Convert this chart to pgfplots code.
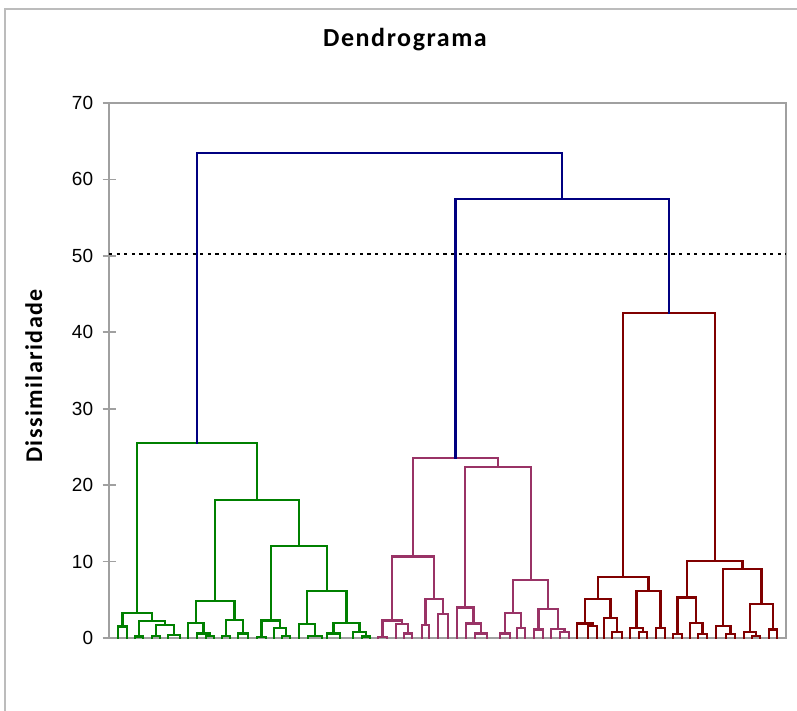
\documentclass[border=0pt]{standalone}
\usepackage{pgfplots}
\pgfplotsset{compat=1.18}
\usepackage{fontspec}
\setmainfont{Carlito}
\newfontfamily\tickfont{Liberation Sans}
\newfontfamily\titlefont[LetterSpace=6]{Carlito}
\definecolor{cgreen}{HTML}{008000}
\definecolor{cpurple}{HTML}{993366}
\definecolor{cred}{HTML}{800000}
\definecolor{cblue}{HTML}{000080}
\definecolor{framegray}{HTML}{A0A0A0}
\begin{document}
\begin{tikzpicture}
\path[use as bounding box] (0,0) rectangle (398.5pt,355.5pt);
\draw[framegray!70, line width=0.8pt] (2.5pt,0) -- (2.5pt,351pt) -- (398.5pt,351pt);
\begin{axis}[
  at={(54.5pt,36.5pt)}, anchor=south west,
  width=338.5pt, height=267.5pt, scale only axis,
  xmin=109, xmax=786, ymin=0, ymax=70,
  xtick=\empty, ytick={0,10,...,70}, ytick pos=left,
  tick align=center, major tick length=6.5pt,
  axis line style={framegray, line width=0.8pt},
  every tick/.style={framegray, line width=0.8pt},
  tick label style={font=\tickfont\fontsize{9.5}{11}\selectfont},
  /pgf/number format/assume math mode=true,
  yticklabel style={anchor=east, inner sep=0pt, xshift=-4.5pt},
  unbounded coords=jump, clip=false,
  every axis plot/.append style={line width=1.1pt, line join=miter, line cap=rect},
]
% green cluster
\addplot[cgreen] coordinates {
(118,0) (118,1.5) (127,1.5) (127,0) (0,nan)
(135,0) (135,0.2) (143,0.2) (143,0) (0,nan)
(152,0) (152,0.3) (160,0.3) (160,0) (0,nan)
(168,0) (168,0.4) (180,0.4) (180,0) (0,nan)
(156,0.3) (156,1.7) (174,1.7) (174,0.4) (0,nan)
(139,0.2) (139,2.2) (165,2.2) (165,1.7) (0,nan)
(122.5,1.5) (122.5,3.3) (152,3.3) (152,2.2) (0,nan)
(206,0) (206,0.3) (214,0.3) (214,0) (0,nan)
(197,0) (197,0.6) (210,0.6) (210,0.3) (0,nan)
(188,0) (188,2.0) (203.5,2.0) (203.5,0.6) (0,nan)
(222,0) (222,0.3) (230,0.3) (230,0) (0,nan)
(238,0) (238,0.6) (248,0.6) (248,0) (0,nan)
(226,0.3) (226,2.35) (243,2.35) (243,0.6) (0,nan)
(195.75,2.0) (195.75,4.85) (234.5,4.85) (234.5,2.35) (0,nan)
(257,0) (257,0.1) (266,0.1) (266,0) (0,nan)
(282,0) (282,0.3) (290,0.3) (290,0) (0,nan)
(274,0) (274,1.35) (286,1.35) (286,0.3) (0,nan)
(261.5,0.1) (261.5,2.3) (280,2.3) (280,1.35) (0,nan)
(308,0) (308,0.3) (322,0.3) (322,0) (0,nan)
(299,0) (299,1.8) (315,1.8) (315,0.3) (0,nan)
(327,0) (327,0.6) (340,0.6) (340,0) (0,nan)
(362,0) (362,0.2) (370,0.2) (370,0) (0,nan)
(353,0) (353,0.75) (366,0.75) (366,0.2) (0,nan)
(333.5,0.6) (333.5,2.0) (359.5,2.0) (359.5,0.75) (0,nan)
(307,1.8) (307,6.2) (346.5,6.2) (346.5,2.0) (0,nan)
(270.75,2.3) (270.75,12.05) (326.75,12.05) (326.75,6.2) (0,nan)
(215.1,4.85) (215.1,18.05) (298.75,18.05) (298.75,12.05) (0,nan)
(137.25,3.3) (137.25,25.5) (256.9,25.5) (256.9,18.05)
};
% purple cluster
\addplot[cpurple] coordinates {
(378,0) (378,0.15) (387,0.15) (387,0) (0,nan)
(404,0) (404,0.6) (412,0.6) (412,0) (0,nan)
(396,0) (396,1.8) (408,1.8) (408,0.6) (0,nan)
(382.5,0.15) (382.5,2.3) (402,2.3) (402,1.8) (0,nan)
(422,0) (422,1.7) (429,1.7) (429,0) (0,nan)
(438,0) (438,3.1) (448,3.1) (448,0) (0,nan)
(425.5,1.7) (425.5,5.1) (443,5.1) (443,3.1) (0,nan)
(392.25,2.3) (392.25,10.65) (434.25,10.65) (434.25,5.1) (0,nan)
(475,0) (475,0.6) (487,0.6) (487,0) (0,nan)
(466,0) (466,1.9) (481,1.9) (481,0.6) (0,nan)
(457,0) (457,4.0) (473.5,4.0) (473.5,1.9) (0,nan)
(500,0) (500,0.6) (510,0.6) (510,0) (0,nan)
(517,0) (517,1.3) (525,1.3) (525,0) (0,nan)
(505,0.6) (505,3.3) (521,3.3) (521,1.3) (0,nan)
(534,0) (534,1.1) (543,1.1) (543,0) (0,nan)
(560,0) (560,0.75) (569,0.75) (569,0) (0,nan)
(551,0) (551,1.15) (564.5,1.15) (564.5,0.75) (0,nan)
(538.5,1.1) (538.5,3.75) (557.75,3.75) (557.75,1.15) (0,nan)
(513,3.3) (513,7.6) (548.1,7.6) (548.1,3.75) (0,nan)
(465.25,4.0) (465.25,22.4) (530.6,22.4) (530.6,7.6) (0,nan)
(413.25,10.65) (413.25,23.5) (497.8,23.5) (497.8,22.4)
};
% red cluster
\addplot[cred] coordinates {
(588,0) (588,1.6) (597,1.6) (597,0) (0,nan)
(577,0) (577,1.9) (592.5,1.9) (592.5,1.6) (0,nan)
(612,0) (612,0.75) (622,0.75) (622,0) (0,nan)
(604,0) (604,2.6) (617,2.6) (617,0.75) (0,nan)
(584.75,1.9) (584.75,5.06) (610.5,5.06) (610.5,2.6) (0,nan)
(639,0) (639,0.8) (647,0.8) (647,0) (0,nan)
(630,0) (630,1.35) (643,1.35) (643,0.8) (0,nan)
(656,0) (656,1.3) (665,1.3) (665,0) (0,nan)
(636.5,1.35) (636.5,6.2) (660.5,6.2) (660.5,1.3) (0,nan)
(597.6,5.06) (597.6,8.0) (648.5,8.0) (648.5,6.2) (0,nan)
(673,0) (673,0.5) (682,0.5) (682,0) (0,nan)
(698,0) (698,0.5) (707,0.5) (707,0) (0,nan)
(690,0) (690,2.0) (702.5,2.0) (702.5,0.5) (0,nan)
(677.5,0.5) (677.5,5.3) (696.25,5.3) (696.25,2.0) (0,nan)
(726,0) (726,0.5) (735,0.5) (735,0) (0,nan)
(716,0) (716,1.6) (730.5,1.6) (730.5,0.5) (0,nan)
(752,0) (752,0.25) (760,0.25) (760,0) (0,nan)
(744,0) (744,0.8) (756,0.8) (756,0.25) (0,nan)
(769,0) (769,1.1) (777,1.1) (777,0) (0,nan)
(750,0.8) (750,4.5) (773,4.5) (773,1.1) (0,nan)
(723.25,1.6) (723.25,9.0) (761.5,9.0) (761.5,4.5) (0,nan)
(686.9,5.3) (686.9,10.1) (742.4,10.1) (742.4,9.0) (0,nan)
(623,8.0) (623,42.5) (714.6,42.5) (714.6,10.1)
};
% top merges
\addplot[cblue] coordinates {
(455.5,23.5) (455.5,57.4) (668.8,57.4) (668.8,42.5) (0,nan)
(197.1,25.5) (197.1,63.5) (562.1,63.5) (562.1,57.4)
};
% cut level
\addplot[black, line width=1pt, line cap=butt, dash pattern=on 1.6pt off 2.2pt] coordinates {(109,50.3) (786,50.3)};
\end{axis}
\node[font=\titlefont\bfseries\fontsize{13}{15}\selectfont, anchor=base] at (202.5pt,332pt) {Dendrograma};
\node[font=\titlefont\bfseries\fontsize{12}{14}\selectfont, rotate=90, anchor=base] at (21pt,167.5pt) {Dissimilaridade};
\end{tikzpicture}
\end{document}
